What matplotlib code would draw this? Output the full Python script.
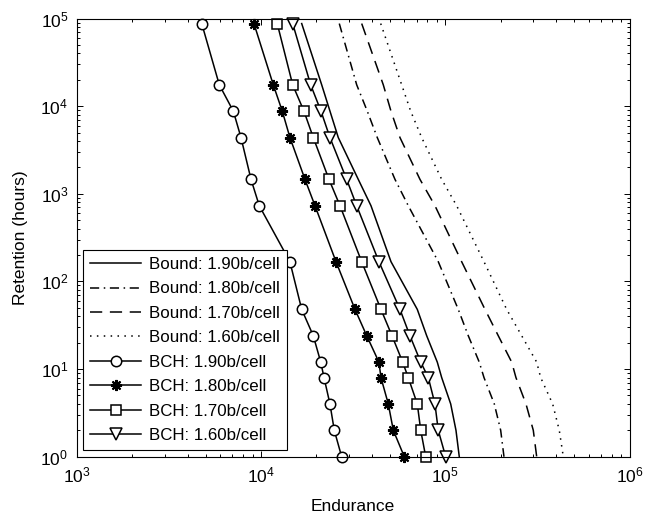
import matplotlib
matplotlib.use('Agg')
import matplotlib.pyplot as plt
import numpy as np
from matplotlib.ticker import LogLocator, NullFormatter

plt.rcParams['font.family'] = ['Liberation Sans', 'DejaVu Sans']
plt.rcParams['mathtext.fontset'] = 'custom'
plt.rcParams['mathtext.rm'] = 'Liberation Sans'

# retention levels (hours): 10y, 2y, 1y, 6mo, 2mo, 1mo, 1wk, 2d, 1d, ...
ret_hours = [87600, 17520, 8760, 4380, 1460, 730, 168, 48, 24, 12, 8, 4, 2, 1]

# endurance bounds
bound_190 = [16630, 21350, 23680, 26270, 33720, 39530, 50750, 70480, 79270, 90500, 95600, 107000, 114300, 119100]
bound_180 = [26600, 33060, 37740, 42760, 53350, 63000, 91620, 117600, 133300, 152900, 162200, 184500, 199800, 208200]
bound_170 = [35190, 46090, 50750, 56780, 72900, 87930, 122700, 164200, 193900, 229300, 241800, 274100, 300300, 313300]
bound_160 = [44620, 58000, 64910, 74460, 95610, 115300, 162200, 215300, 259800, 313300, 329300, 382500, 415500, 436900]

# BCH codes
bch_190 = [4770, 5940, 7080, 7790, 8830, 9790, 14350, 16630, 19220, 21100, 21980, 23670, 24990, 27400]
bch_180 = [9160, 11660, 13050, 14360, 17330, 19640, 25530, 32370, 37480, 43650, 44770, 49060, 52240, 59930]
bch_170 = [12250, 14860, 17110, 19220, 23390, 26840, 35180, 44770, 51390, 58720, 62960, 70490, 73590, 78300]
bch_160 = [14860, 18600, 21170, 23670, 29170, 33060, 43650, 56770, 64300, 73600, 80890, 87900, 91600, 100500]

fig = plt.figure(figsize=(6.51, 5.13), dpi=100)
ax = fig.add_axes([0.1178, 0.1097, 0.8493, 0.8542])

lw = 1.1
ax.plot(bound_190, ret_hours, color='k', lw=lw, ls='-', label='Bound: 1.90b/cell')
ax.plot(bound_180, ret_hours, color='k', lw=lw, ls=(0, (6, 3, 1, 3)), label='Bound: 1.80b/cell')
ax.plot(bound_170, ret_hours, color='k', lw=lw, ls=(0, (8, 5)), label='Bound: 1.70b/cell')
ax.plot(bound_160, ret_hours, color='k', lw=lw, ls=(0, (1, 3.5)), label='Bound: 1.60b/cell')

ax.plot(bch_190, ret_hours, color='k', lw=lw, marker='o', ms=7.5, mfc='white', mec='k',
        mew=1.1, label='BCH: 1.90b/cell', clip_on=False)
ax.plot(bch_180, ret_hours, color='k', lw=lw, marker=(8, 2, 0), ms=8, mec='k',
        mew=1.5, label='BCH: 1.80b/cell', clip_on=False)
ax.plot(bch_170, ret_hours, color='k', lw=lw, marker='s', ms=7.5, mfc='white', mec='k',
        mew=1.1, label='BCH: 1.70b/cell', clip_on=False)
ax.plot(bch_160, ret_hours, color='k', lw=lw, marker='v', ms=8.5, mfc='white', mec='k',
        mew=1.1, label='BCH: 1.60b/cell', clip_on=False)

ax.set_xscale('log')
ax.set_yscale('log')
ax.set_xlim(1e3, 1e6)
ax.set_ylim(1e0, 1e5)

ax.xaxis.set_minor_locator(LogLocator(base=10, subs=np.arange(2, 10)))
ax.yaxis.set_minor_locator(LogLocator(base=10, subs=np.arange(2, 10)))
ax.xaxis.set_minor_formatter(NullFormatter())
ax.yaxis.set_minor_formatter(NullFormatter())
ax.tick_params(which='both', direction='in', top=True, right=True, labelsize=12.5, width=0.7)
ax.tick_params(which='major', length=4, pad=6)
ax.tick_params(which='minor', length=2.2)
for s in ax.spines.values():
    s.set_linewidth(0.8)

ax.set_xlabel('Endurance', fontsize=12.5, labelpad=10)
ax.set_ylabel('Retention (hours)', fontsize=12.5, labelpad=9)

leg = ax.legend(loc='lower left', bbox_to_anchor=(0.012, 0.015), borderaxespad=0,
                fontsize=12.2, fancybox=False, framealpha=1, edgecolor='k',
                handlelength=3.0, handletextpad=0.5, labelspacing=0.56, borderpad=0.4)
leg.get_frame().set_linewidth(0.8)

plt.savefig('out.png', dpi=100)
